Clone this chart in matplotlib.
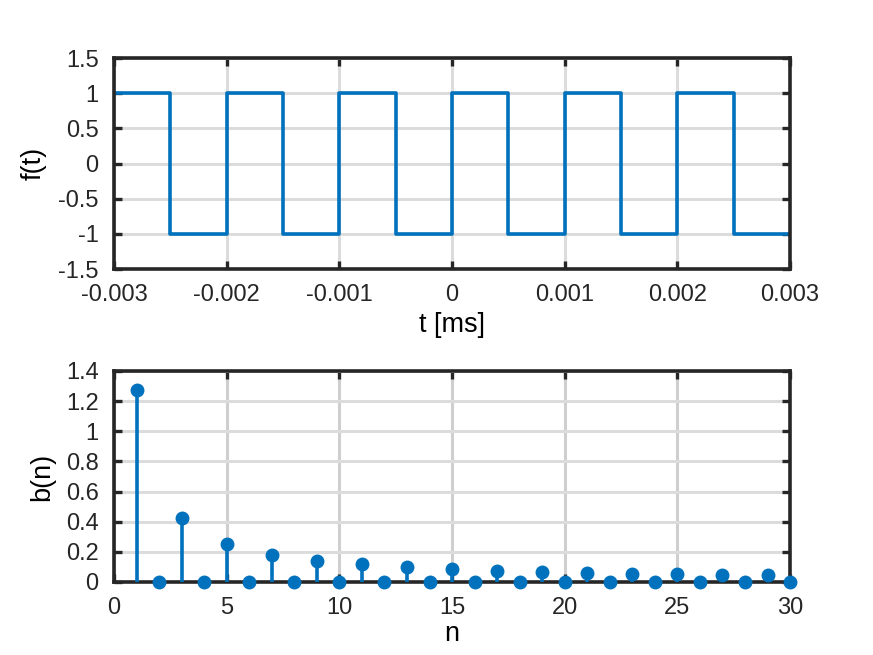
import matplotlib
matplotlib.use("Agg")
import matplotlib.pyplot as plt

# square wave breakpoints (t in ms) and levels
t_edges = [-0.003, -0.0025, -0.002, -0.0015, -0.001, -0.0005, 0.0,
           0.0005, 0.001, 0.0015, 0.002, 0.0025, 0.003]
f_levels = [1, -1, 1, -1, 1, -1, 1, -1, 1, -1, 1, -1]

# Fourier sine coefficients
n_vals = list(range(1, 31))
b_vals = [1.273, 0, 0.424, 0, 0.255, 0, 0.182, 0, 0.141, 0,
          0.116, 0, 0.098, 0, 0.085, 0, 0.075, 0, 0.067, 0,
          0.061, 0, 0.055, 0, 0.051, 0, 0.047, 0, 0.044, 0]

blue = "#0072BD"
plt.rcParams['font.family'] = ['Liberation Sans', 'DejaVu Sans']
plt.rcParams['font.size'] = 17
lab_size = 19.5

fig = plt.figure(figsize=(8.73, 6.55), dpi=100)
ax1 = fig.add_axes([0.1306, 0.5893, 0.7744, 0.3221])
ax2 = fig.add_axes([0.1306, 0.1115, 0.7744, 0.3221])

# build step trace from edges/levels
xs, ys = [], []
for i, lv in enumerate(f_levels):
    xs += [t_edges[i], t_edges[i + 1]]
    ys += [lv, lv]
ax1.plot(xs, ys, color=blue, lw=2.6)
ax1.set_xlim(-0.003, 0.003)
ax1.set_ylim(-1.5, 1.5)
ax1.set_xticks([-0.003, -0.002, -0.001, 0, 0.001, 0.002, 0.003])
ax1.set_xticklabels(["-0.003", "-0.002", "-0.001", "0", "0.001", "0.002", "0.003"])
ax1.set_yticks([-1.5, -1, -0.5, 0, 0.5, 1, 1.5])
ax1.set_yticklabels(["-1.5", "-1", "-0.5", "0", "0.5", "1", "1.5"])
ax1.set_xlabel("t [ms]", fontsize=lab_size, labelpad=4)
ax1.set_ylabel("f(t)", fontsize=lab_size, labelpad=8)

ax2.vlines(n_vals, 0, b_vals, color=blue, lw=2.6, zorder=3)
ax2.plot(n_vals, b_vals, 'o', color=blue, markersize=9, clip_on=False, zorder=4)
ax2.axhline(0, color="#262626", lw=2, zorder=2)
ax2.set_xlim(0, 30)
ax2.set_ylim(0, 1.4)
ax2.set_xticks(range(0, 31, 5))
ax2.set_yticks([0, 0.2, 0.4, 0.6, 0.8, 1, 1.2, 1.4])
ax2.set_yticklabels(["0", "0.2", "0.4", "0.6", "0.8", "1", "1.2", "1.4"])
ax2.set_xlabel("n", fontsize=lab_size, labelpad=1)
ax2.set_ylabel("b(n)", fontsize=lab_size, labelpad=8)

for ax in (ax1, ax2):
    ax.grid(True, color="#dcdcdc", lw=2.2)
    ax.set_axisbelow(True)
    for s in ax.spines.values():
        s.set_linewidth(2.6)
        s.set_color("#262626")
    ax.tick_params(direction="in", length=6, width=2.4, color="#262626",
                   top=True, right=True, labelcolor="#262626", pad=11)
ax2.grid(True, axis="x", color="#cfcfcf", lw=2.2)

fig.savefig("out.png", dpi=100)
